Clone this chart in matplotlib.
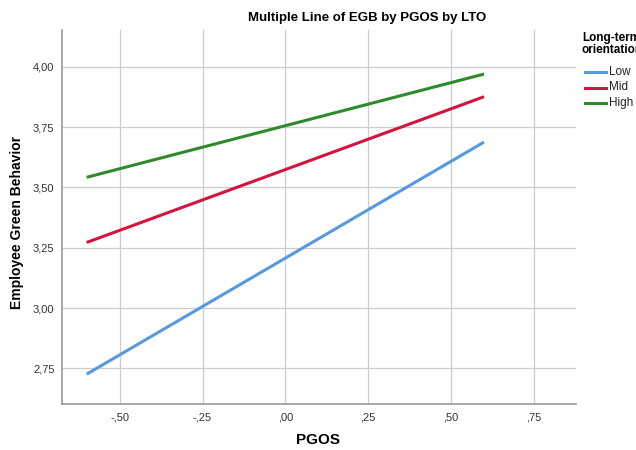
import matplotlib.pyplot as plt
from matplotlib.ticker import FuncFormatter

plt.rcParams['font.family'] = ['Liberation Sans', 'DejaVu Sans']

pgos = [-0.6, 0.6]
low = [2.726, 3.688]
mid = [3.272, 3.876]
high = [3.542, 3.970]
series_names = ["Low", "Mid", "High"]
colors = ["#5599e3", "#d5133f", "#2e8b2b"]
x_ticks = [-0.50, -0.25, 0.00, 0.25, 0.50, 0.75]
y_ticks = [2.75, 3.00, 3.25, 3.50, 3.75, 4.00]


def spss_fmt(v, pos):
    s = f"{v:.2f}".replace(".", ",")
    if s.startswith("0,"):
        s = s[1:]
    elif s.startswith("-0,"):
        s = "-" + s[2:]
    return s


fig = plt.figure(figsize=(6.36, 4.5), dpi=100)
ax = fig.add_axes([0.0967, 0.102, 0.8090, 0.831])

for vals, c in zip([low, mid, high], colors):
    ax.plot(pgos, vals, color=c, lw=2.2, solid_capstyle="butt")

ax.set_xlim(-0.676, 0.878)
ax.set_ylim(2.602, 4.152)
ax.set_xticks(x_ticks)
ax.set_yticks(y_ticks)
ax.xaxis.set_major_formatter(FuncFormatter(spss_fmt))
ax.yaxis.set_major_formatter(FuncFormatter(spss_fmt))
ax.tick_params(length=0, labelsize=8, colors="#333333")
ax.tick_params(axis="x", pad=6)
ax.tick_params(axis="y", pad=5)
ax.grid(True, color="#cccccc", lw=0.9)
ax.set_axisbelow(True)
for s in ["top", "right"]:
    ax.spines[s].set_visible(False)
for s in ["left", "bottom"]:
    ax.spines[s].set_color("#999999")
    ax.spines[s].set_linewidth(1.2)

fig.text(318 / 636, 1 - 440 / 450, "PGOS", ha="center", va="center",
         fontsize=11, fontweight="bold")
fig.text(17 / 636, 1 - 222 / 450, "Employee Green Behavior", ha="center", va="center",
         rotation=90, fontsize=10, fontweight="bold")
fig.text(367 / 636, 1 - 18 / 450, "Multiple Line of EGB by PGOS by LTO",
         ha="center", va="center", fontsize=9.5, fontweight="bold")

# legend drawn by hand to mimic the SPSS one that runs off the edge
fig.text(582 / 636, 1 - 44 / 450, "Long-term\norientation", ha="left", va="center",
         fontsize=8.5, fontweight="bold", linespacing=0.95)
for i, (name, c) in enumerate(zip(series_names, colors)):
    yy = 1 - (72 + i * 15.5) / 450
    fig.add_artist(plt.Line2D([585 / 636, 606 / 636], [yy, yy], color=c, lw=2.2,
                              transform=fig.transFigure))
    fig.text(609 / 636, yy, name, ha="left", va="center", fontsize=8.5, color="#222222")

fig.savefig("out.png", dpi=100)
